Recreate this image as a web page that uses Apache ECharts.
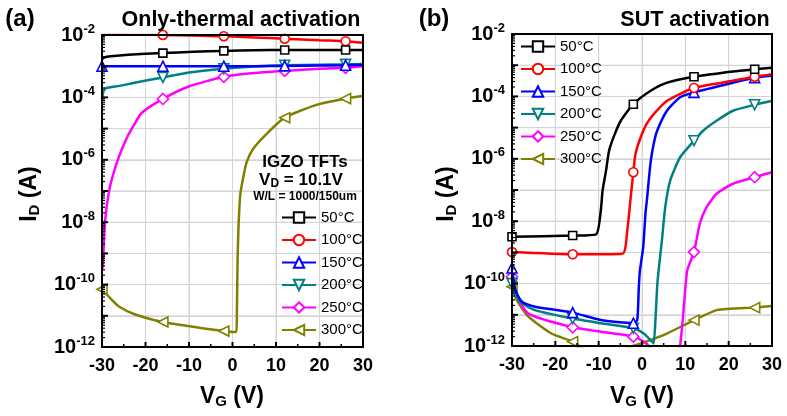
<!DOCTYPE html>
<html><head><meta charset="utf-8">
<script src="https://cdn.jsdelivr.net/npm/echarts@6/dist/echarts.min.js"></script>
<style>html,body{margin:0;padding:0;background:#fff}#c{width:787px;height:416px}</style>
</head><body><div id="c"></div>
<script>
const FONT = 'Liberation Sans, Arial, sans-serif';
const temps = ['50°C', '100°C', '150°C', '200°C', '250°C', '300°C'];
const colors = ['#000000', '#ff0000', '#0000ff', '#008080', '#ff00ff', '#808000'];
const symbols = ['rect', 'circle', 'triangle', 'triangle', 'diamond', 'triangle'];
const symbolRot = [0, 0, 0, 180, 0, 90];
const symbolSizes = [8, 9, 10, 10, 11, 10];
const markV = [-30, -16, -2, 12, 26];           // gate voltages carrying a marker
const edgeMarkA = [false, false, true, false, false, true];  // marker visible at -30 V in (a)
const edgeMarkB = [true, true, true, true, true, true];
const xTicks = [-30, -20, -10, 0, 10, 20, 30];
const xMinorTicks = [-25, -15, -5, 5, 15, 25];
const yExpTicks = [-12, -10, -8, -6, -4, -2];          // labelled decades
const yDecades = [-12, -11, -10, -9, -8, -7, -6, -5, -4, -3, -2];
const yMinorMult = [2, 3, 4, 5, 6, 7, 8, 9];
const xRange = [-30, 30];
const yRange = [1e-12, 1e-2];

// [V_G (V), log10(I_D / A)]
// (a) Only-thermal activation
const a50 = [[-30,-2.77],[-29.5,-2.72],[-28,-2.68],[-24,-2.63],[-16,-2.58],[-9,-2.54],[-2,-2.51],[5,-2.49],[12,-2.48],[20,-2.48],[26,-2.48],[30,-2.48]];
const a100 = [[-30,-1.98],[-23,-1.99],[-16,-2.0],[-9,-2.02],[-2,-2.04],[5,-2.08],[12,-2.12],[20,-2.17],[26,-2.2],[30,-2.25]];
const a150 = [[-30,-3.0],[-16,-3.0],[-2,-3.0],[5,-3.0],[12,-2.99],[26,-2.97],[30,-2.96]];
const a200 = [[-30,-4.04],[-29.6,-3.78],[-29,-3.7],[-26,-3.63],[-22.5,-3.53],[-16,-3.36],[-10,-3.2],[-2,-3.08],[5,-3.01],[12,-2.97],[20,-2.95],[26,-2.94],[30,-2.93]];
const a250 = [[-30,-9.5],[-29.8,-9.4],[-29.55,-8.6],[-29.25,-7.9],[-28.5,-7.1],[-27.7,-6.6],[-26.1,-5.9],[-24.3,-5.3],[-22.5,-4.85],[-20.9,-4.5],[-16,-4.05],[-10.2,-3.66],[-2,-3.34],[5,-3.22],[12,-3.15],[20,-3.08],[26,-3.05],[30,-3.0]];
const a300 = [[-30,-10.15],[-28,-10.45],[-26.1,-10.7],[-22.5,-10.95],[-16,-11.2],[-10.2,-11.33],[-2,-11.49],[0.3,-11.52],[0.9,-11.52],[1.0,-11.0],[1.1,-9.9],[1.2,-9.0],[1.4,-8.07],[1.8,-7.1],[2.6,-6.47],[3.3,-6.06],[4.8,-5.64],[7.9,-5.16],[12,-4.65],[19.3,-4.24],[26,-4.04],[30,-3.95]];
// (b) SUT activation
const b50 = [[-30,-8.5],[-16,-8.46],[-10.6,-8.42],[-9.5,-7.65],[-9.1,-7.02],[-8.3,-6.38],[-7.6,-5.74],[-6.4,-5.25],[-4.9,-4.78],[-2,-4.25],[2,-3.82],[5.8,-3.56],[12,-3.37],[21,-3.2],[26,-3.13],[30,-3.08]];
const b100 = [[-30,-8.99],[-16,-9.06],[-4.5,-9.04],[-3.4,-8.3],[-2.6,-7.23],[-2,-6.43],[-1.5,-5.84],[-0.3,-5.31],[1.0,-4.9],[2.7,-4.57],[5.8,-4.14],[12,-3.73],[21,-3.5],[26,-3.37],[30,-3.29]];
const b150 = [[-30,-9.5],[-29.6,-9.9],[-29.2,-10.2],[-27.7,-10.58],[-24.7,-10.74],[-16,-10.93],[-9.5,-11.17],[-2,-11.27],[-1.1,-11.17],[-0.73,-10.1],[-0.5,-9.6],[0.28,-8.83],[0.8,-7.76],[1.2,-7.23],[1.94,-6.16],[2.7,-5.52],[3.5,-5.1],[5.75,-4.46],[8.8,-4.03],[12,-3.87],[21,-3.56],[26,-3.4],[30,-3.34]];
const b200 = [[-30,-10.0],[-29.5,-10.3],[-28,-10.6],[-24.7,-10.85],[-16,-11.12],[-9.5,-11.27],[-2,-11.43],[0.4,-11.6],[2.3,-11.86],[2.7,-11.92],[3.1,-11.17],[3.5,-10.1],[3.84,-9.57],[4.6,-8.61],[5.36,-7.55],[6.5,-6.7],[8.8,-5.95],[12,-5.42],[14.1,-5.1],[17.2,-4.78],[21,-4.46],[26,-4.27],[30,-4.14]];
const b250 = [[-30,-9.78],[-29.2,-10.32],[-26.2,-10.96],[-16,-11.4],[-9.5,-11.54],[-2,-11.7],[0.4,-11.86],[1.55,-12.0],[3,-12.3],[8.5,-12.3],[8.8,-12.0],[9.4,-11.17],[9.9,-10.32],[10.45,-9.57],[12,-8.99],[13.35,-8.08],[14.9,-7.55],[17.2,-7.12],[21,-6.8],[26,-6.59],[30,-6.43]];
const b300 = [[-30,-10.1],[-28.9,-10.53],[-26.2,-11.06],[-20.9,-11.6],[-16,-11.86],[-13.6,-12.07],[-8,-12.3],[-4,-12.15],[-2.6,-12.02],[-0.3,-11.92],[5.75,-11.6],[12,-11.17],[17.2,-10.85],[21,-10.8],[26,-10.77],[30,-10.72]];

const panelA = [a50, a100, a150, a200, a250, a300];
const panelB = [b50, b100, b150, b200, b250, b300];

function toCurrent(arr) { return arr.map(p => [p[0], Math.pow(10, p[1])]); }

function makeSeries(panel, idx, edge) {
  return panel.map((d, i) => ({
    name: temps[i], type: 'line', xAxisIndex: idx, yAxisIndex: idx,
    data: toCurrent(d), smooth: 0.2, clip: true,
    symbol: symbols[i], symbolRotate: symbolRot[i], showAllSymbol: true,
    symbolSize: (val) => (markV.includes(val[0]) && (val[0] !== -30 || edge[i])) ? symbolSizes[i] : 0,
    lineStyle: { color: colors[i], width: 2.5 },
    itemStyle: { color: '#ffffff', borderColor: colors[i], borderWidth: 1.6 },
    z: 10 - i
  }));
}

function xAxisCfg(idx) {
  return {
    gridIndex: idx, type: 'value', min: xRange[0], max: xRange[1], interval: 10,
    axisLine: { onZero: false }, axisTick: { show: false },
    splitLine: { show: true, lineStyle: { color: '#d4d4d4', width: 1 } },
    axisLabel: { color: '#000', fontSize: 18, fontWeight: 'bold', fontFamily: FONT, margin: 10,
      formatter: v => xTicks.includes(v) ? String(v) : '' }
  };
}
function yAxisCfg(idx) {
  return {
    gridIndex: idx, type: 'log', logBase: 10, min: yRange[0], max: yRange[1],
    axisLine: { onZero: false }, axisTick: { show: false },
    splitLine: { show: true, lineStyle: { color: '#d4d4d4', width: 1 } },
    axisLabel: { color: '#000', fontFamily: FONT, margin: 7,
      formatter: v => {
        const e = Math.round(Math.log10(v));
        return yExpTicks.includes(e) ? '{b|10}{s|' + e + '}' : '';
      },
      rich: {
        b: { fontSize: 20, fontWeight: 'bold', fontFamily: FONT, color: '#000' },
        s: { fontSize: 13, fontWeight: 'bold', fontFamily: FONT, color: '#000', padding: [0, 0, 12, 0] }
      }
    }
  };
}

function legendCfg(left, top) {
  return {
    data: temps, orient: 'vertical', left: left, top: top,
    itemWidth: 34, itemHeight: 13, itemGap: 7.5,
    textStyle: { color: '#000', fontSize: 15, fontFamily: FONT, lineHeight: 14 },
    selectedMode: false
  };
}

function txt(x, y, text, size) {
  return {
    type: 'text', x: x, y: y, z: 30,
    style: { text: text, x: 0, y: 0, fill: '#000', fontSize: size, fontWeight: 'bold', fontFamily: FONT,
      align: 'center', verticalAlign: 'middle' }
  };
}
function richTxt(x, y, text, big, small, shift, rot) {
  return {
    type: 'text', x: x, y: y, rotation: rot || 0, z: 30,
    style: { text: text, x: 0, y: 0, align: 'center', verticalAlign: 'middle',
      rich: {
        a: { fontSize: big, fontWeight: 'bold', fontFamily: FONT, fill: '#000', color: '#000' },
        b: { fontSize: small, fontWeight: 'bold', fontFamily: FONT, fill: '#000', color: '#000', padding: [shift, 0, 0, 0] }
      } }
  };
}

const labels = [
  txt(20, 19, '(a)', 24),
  txt(241, 20, 'Only-thermal activation', 21.5),
  txt(434, 19, '(b)', 24),
  txt(695, 20, 'SUT activation', 21.5),
  txt(305, 162, 'IGZO TFTs', 17),
  richTxt(301, 180, '{a|V}{b|D}{a| = 10.1V}', 17, 12, 8),
  txt(305, 197, 'W/L = 1000/150um', 12),
  richTxt(30, 194, '{a|I}{b|D}{a| (A)}', 23, 15, 10, Math.PI / 2),
  richTxt(447, 194, '{a|I}{b|D}{a| (A)}', 23, 15, 10, Math.PI / 2),
  richTxt(232, 397, '{a|V}{b|G}{a| (V)}', 23, 15, 10),
  richTxt(642, 397, '{a|V}{b|G}{a| (V)}', 23, 15, 10)
];

const chart = echarts.init(document.getElementById('c'), null, { renderer: 'canvas' });
chart.setOption({
  animation: false,
  backgroundColor: '#fff',
  grid: [
    { left: 102, top: 35, width: 261, height: 312, show: true, borderColor: '#000', borderWidth: 2, backgroundColor: 'transparent' },
    { left: 512, top: 34, width: 260, height: 312, show: true, borderColor: '#000', borderWidth: 2, backgroundColor: 'transparent' }
  ],
  xAxis: [xAxisCfg(0), xAxisCfg(1)],
  yAxis: [yAxisCfg(0), yAxisCfg(1)],
  legend: [legendCfg(276, 205), legendCfg(515, 34)],
  series: makeSeries(panelA, 0, edgeMarkA).concat(makeSeries(panelB, 1, edgeMarkB))
});

// gridlines, ticks and frame positioned through the axes' own scales (convertToPixel)
function decorFor(idx) {
  const P = (x, y) => chart.convertToPixel({ gridIndex: idx }, [x, y]);
  const [x0, x1] = xRange, [y0, y1] = yRange;
  const els = [];
  const L = (p, q, stroke, w, z) => els.push({ type: 'line', z: z, silent: false,
    shape: { x1: p[0], y1: p[1], x2: q[0], y2: q[1] }, style: { stroke: stroke, lineWidth: w } });
  xTicks.slice(1, -1).forEach(x => L(P(x, y0), P(x, y1), '#d4d4d4', 1, 1));
  yDecades.slice(1, -1).forEach(e => L(P(x0, Math.pow(10, e)), P(x1, Math.pow(10, e)), '#d4d4d4', 1, 1));
  xTicks.forEach(x => { const p = P(x, y0); L(p, [p[0], p[1] - 5], '#000', 2, 20); });
  xMinorTicks.forEach(x => { const p = P(x, y0); L(p, [p[0], p[1] - 3], '#000', 1.5, 20); });
  yDecades.forEach(e => { const p = P(x0, Math.pow(10, e)); L(p, [p[0] + 6, p[1]], '#000', 2, 20); });
  yDecades.slice(0, -1).forEach(e => yMinorMult.forEach(k => {
    const p = P(x0, k * Math.pow(10, e)); L(p, [p[0] + 3, p[1]], '#000', 1.2, 20);
  }));
  const tl = P(x0, y1), br = P(x1, y0);
  els.push({ type: 'rect', z: 21, silent: false,
    shape: { x: tl[0], y: tl[1], width: br[0] - tl[0], height: br[1] - tl[1] },
    style: { fill: 'none', stroke: '#000', lineWidth: 2 } });
  return els;
}

chart.setOption({ graphic: { elements: decorFor(0).concat(decorFor(1), labels) } });
</script></body></html>
